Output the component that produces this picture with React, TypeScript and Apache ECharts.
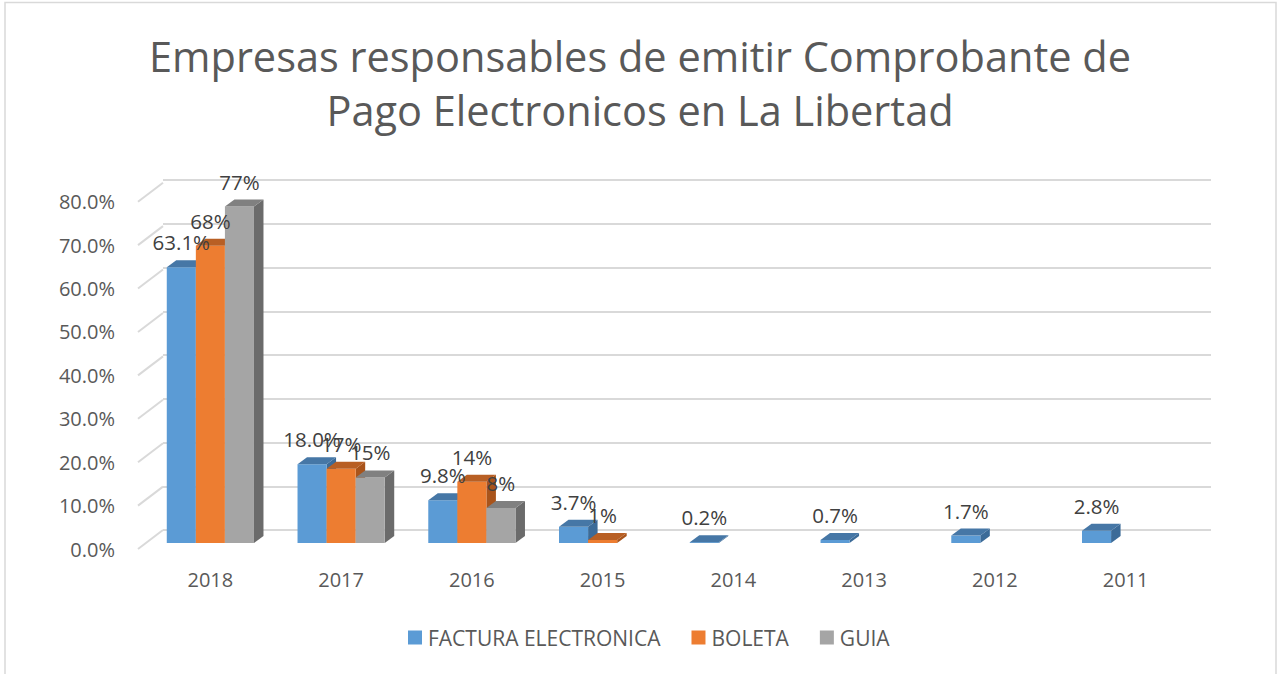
import React, { useEffect, useRef } from "react";
import * as echarts from "echarts";

const titleText = "Empresas responsables de emitir Comprobante de\nPago Electronicos en La Libertad";
const categories = ["2018", "2017", "2016", "2015", "2014", "2013", "2012", "2011"];
const seriesNames = ["FACTURA ELECTRONICA", "BOLETA", "GUIA"];
const facturaValues = [0.631, 0.18, 0.098, 0.037, 0.002, 0.007, 0.017, 0.028];
const boletaValues = [0.68, 0.17, 0.14, 0.007, null, null, null, null];
const guiaValues = [0.77, 0.15, 0.08, null, null, null, null, null];
const labelDecimals = [1, 0, 0];
const yTicks = [0, 0.1, 0.2, 0.3, 0.4, 0.5, 0.6, 0.7, 0.8];

const frontColors = ["#5b9bd5", "#ed7d31", "#a5a5a5"];
const topColors = ["#4677a6", "#b85f24", "#808080"];
const sideColors = ["#3c6b98", "#a9541b", "#6b6b6b"];

const DX = 9.5;
const DY = -7;

export default function App() {
  const ref = useRef<HTMLDivElement>(null);
  useEffect(() => {
    if (!ref.current) return;
    const chart = echarts.init(ref.current, null, { renderer: "svg" });
    const allValues = [facturaValues, boletaValues, guiaValues];
    const font = "'Open Sans', sans-serif";

    const barSeries: any[] = allValues.map((vals, s) => ({
      type: "custom",
      name: seriesNames[s],
      xAxisIndex: 1,
      yAxisIndex: 1,
      z: 2 + s,
      itemStyle: { color: frontColors[s] },
      data: vals.map((v, i) => (v == null ? [i, "-"] : [i, v])),
      renderItem: (params: any, api: any) => {
        const v = api.value(1);
        if (isNaN(v)) return null;
        const top = api.coord([api.value(0), v]);
        const base = api.coord([api.value(0), 0]);
        const band = api.size([1, 0])[0];
        const w = band * 0.2223;
        const cx = top[0] + (s - 1) * w;
        const x = cx - w / 2;
        const ty = top[1];
        const by = base[1];
        return {
          type: "group",
          children: [
            {
              type: "polygon",
              shape: { points: [[x + w, ty], [x + w + DX, ty + DY], [x + w + DX, by + DY], [x + w, by]] },
              style: { fill: sideColors[s] },
            },
            {
              type: "rect",
              shape: { x: x, y: ty, width: w, height: Math.max(by - ty, 0) },
              style: { fill: frontColors[s] },
            },
            {
              type: "polygon",
              shape: { points: [[x, ty], [x + DX, ty + DY], [x + w + DX, ty + DY], [x + w, ty]] },
              style: { fill: topColors[s] },
            },
          ],
        };
      },
    }));

    const labelSeries: any[] = allValues.map((vals, s) => ({
      type: "custom",
      name: seriesNames[s] + " labels",
      xAxisIndex: 1,
      yAxisIndex: 1,
      z: 10,
      silent: true,
      data: vals.map((v, i) => (v == null ? [i, "-"] : [i, v])),
      renderItem: (params: any, api: any) => {
        const v = api.value(1);
        if (isNaN(v)) return null;
        const top = api.coord([api.value(0), v]);
        const band = api.size([1, 0])[0];
        const w = band * 0.2223;
        const cx = top[0] + (s - 1) * w;
        return {
          type: "text",
          x: cx,
          y: top[1] - 25,
          style: {
            text: (v * 100).toFixed(labelDecimals[s]) + "%",
            fill: "#404040",
            font: "20.5px " + font,
            align: "center",
            verticalAlign: "middle",
          },
        };
      },
    }));

    const diagSeries = {
      type: "custom",
      name: "diagonals",
      xAxisIndex: 2,
      yAxisIndex: 2,
      z: 1,
      silent: true,
      data: yTicks.map((t) => [0, t]),
      renderItem: (params: any, api: any) => {
        const p = api.coord([0, api.value(1)]);
        return {
          type: "line",
          shape: { x1: p[0], y1: p[1], x2: p[0] + 25, y2: p[1] - 19 },
          style: { stroke: "#d9d9d9", lineWidth: 2 },
        };
      },
    };

    const option: any = {
      animation: false,
      backgroundColor: "#ffffff",
      textStyle: { fontFamily: font },
      title: {
        text: titleText,
        left: "center",
        top: 24,
        textStyle: {
          fontFamily: font,
          fontSize: 41.5,
          lineHeight: 54,
          fontWeight: "normal",
          color: "#595959",
        },
      },
      legend: {
        data: seriesNames,
        left: 403,
        top: 622,
        icon: "rect",
        itemWidth: 14,
        itemHeight: 14,
        itemGap: 31,
        textStyle: { fontFamily: font, fontSize: 21, color: "#595959", padding: [0, 0, 0, 1] },
      },
      graphic: [
        {
          type: "rect",
          shape: { x: 5, y: 2.5, width: 1271, height: 700 },
          style: { fill: "none", stroke: "#d9d9d9", lineWidth: 1.5 },
          silent: true,
        },
      ],
      grid: [
        { left: 163, right: 69, top: 180, bottom: 144 },
        { left: 145, width: 1046, top: 193.4, height: 349.6 },
        { left: 138, width: 1000, top: 201.7, height: 347.3 },
      ],
      xAxis: [
        { gridIndex: 0, type: "category", data: categories, show: false },
        {
          gridIndex: 1,
          type: "category",
          data: categories,
          axisLine: { show: false },
          axisTick: { show: false },
          axisLabel: { margin: 26, fontSize: 20, color: "#595959", fontFamily: font },
        },
        { gridIndex: 2, type: "value", min: 0, max: 1, show: false },
      ],
      yAxis: [
        {
          gridIndex: 0,
          type: "value",
          min: 0,
          max: 0.8,
          interval: 0.1,
          axisLabel: { show: false },
          axisLine: { show: false },
          axisTick: { show: false },
          splitLine: { lineStyle: { color: "#d9d9d9", width: 2 } },
        },
        { gridIndex: 1, type: "value", min: 0, max: 0.8, interval: 0.1, show: false },
        {
          gridIndex: 2,
          type: "value",
          min: 0,
          max: 0.8,
          interval: 0.1,
          axisLine: { show: false },
          axisTick: { show: false },
          splitLine: { show: false },
          axisLabel: {
            margin: 23,
            fontSize: 20,
            color: "#595959",
            fontFamily: font,
            formatter: (v: number) => (v * 100).toFixed(1) + "%",
          },
        },
      ],
      series: [diagSeries, ...barSeries, ...labelSeries],
    };
    chart.setOption(option);
    return () => chart.dispose();
  }, []);

  return (
    <div
      ref={ref}
      style={{ position: "fixed", left: 0, top: 0, width: 1280, height: 674, background: "#fff" }}
    />
  );
}
